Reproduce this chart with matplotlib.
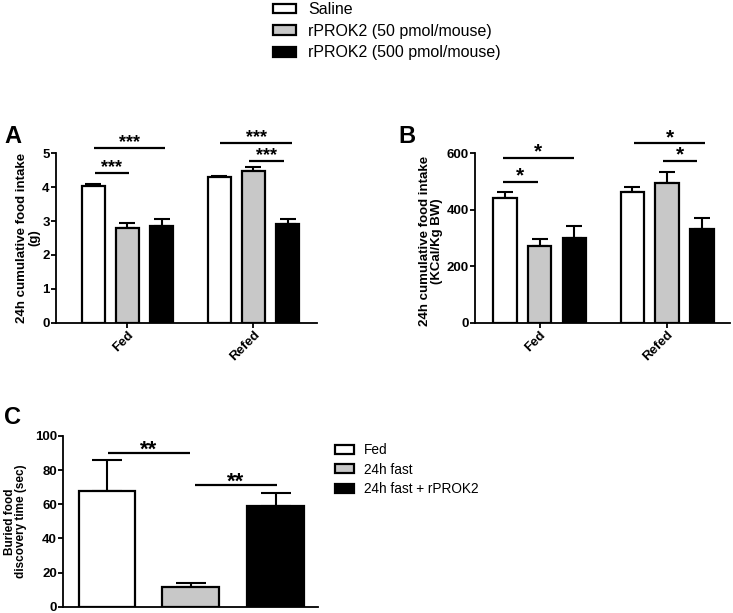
import numpy as np
import matplotlib
matplotlib.use("Agg")
import matplotlib.pyplot as plt
from matplotlib.patches import Patch

# ── Data ─────────────────────────────────────────────────────
groups_ab = ["Fed", "Refed"]
dose_labels = ["Saline", "rPROK2 (50 pmol/mouse)", "rPROK2 (500 pmol/mouse)"]

a_fed = [4.03, 2.80, 2.85]
a_fed_err = [0.06, 0.13, 0.20]
a_refed = [4.29, 4.49, 2.90]
a_refed_err = [0.04, 0.11, 0.16]

b_fed = [441, 273, 301]
b_fed_err = [23, 22, 42]
b_refed = [464, 494, 332]
b_refed_err = [18, 41, 38]

c_labels = ["Fed", "24h fast", "24h fast + rPROK2"]
c_vals = [68, 11.7, 59.2]
c_err = [18, 2.4, 7.2]

colors = ["white", "#c8c8c8", "black"]

# ── Style ────────────────────────────────────────────────────
plt.rcParams.update({
    "font.family": ["Liberation Sans", "DejaVu Sans"],
    "axes.linewidth": 1.3,
})

W, H = 733, 613
fig = plt.figure(figsize=(W / 100, H / 100), dpi=100)


def px_axes(l, r, top, bot):
    return fig.add_axes([l / W, 1 - bot / H, (r - l) / W, (bot - top) / H])


def style(ax, fs=9.5):
    for s in ["top", "right"]:
        ax.spines[s].set_visible(False)
    ax.tick_params(direction="out", length=3.5, width=1.3, pad=1)
    for t in ax.get_yticklabels():
        t.set_fontweight("bold")
        t.set_fontsize(fs)


def bars(ax, xs, vals, errs, width, capsize):
    ax.bar(xs, vals, width=width, color=colors, edgecolor="black",
           linewidth=1.6, zorder=3)
    ax.errorbar(xs, vals, yerr=[np.zeros(len(vals)), errs], fmt="none",
                ecolor="black", elinewidth=1.5, capsize=capsize,
                capthick=1.5, zorder=2)


def sig(ax, x0, x1, y, stars, size=13, dy=0.0):
    ax.plot([x0, x1], [y, y], color="black", lw=1.6, clip_on=False,
            solid_capstyle="butt")
    ax.text((x0 + x1) / 2, y + dy, stars, ha="center", va="bottom",
            fontsize=size, fontweight="bold", clip_on=False)


# ── Panel A ──────────────────────────────────────────────────
axA = px_axes(56, 317, 153.3, 322.7)
cA = [2.08, 5.75]
bars(axA, [cA[0] - 1, cA[0], cA[0] + 1], a_fed, a_fed_err, 0.67, 5.5)
bars(axA, [cA[1] - 1, cA[1], cA[1] + 1], a_refed, a_refed_err, 0.67, 5.5)
axA.set_xlim(0, 7.6)
axA.set_ylim(0, 5)
axA.set_yticks([0, 1, 2, 3, 4, 5])
axA.set_xticks(cA)
axA.set_xticklabels(groups_ab, rotation=45, ha="right", va="top",
                    rotation_mode="anchor", fontweight="bold", fontsize=9.5)
style(axA)
axA.set_ylabel("24h cumulative food intake\n(g)", fontweight="bold",
               fontsize=9.5, linespacing=1.0)
axA.yaxis.set_label_coords(-0.06, 0.5)
sig(axA, 1.1, 3.16, 5.16, "***", dy=-0.1)
sig(axA, 1.13, 2.12, 4.43, "***", dy=-0.1)
sig(axA, 4.78, 6.87, 5.31, "***", dy=-0.1)
sig(axA, 5.62, 6.64, 4.77, "***", dy=-0.1)

# ── Panel B ──────────────────────────────────────────────────
axB = px_axes(475, 730, 153.3, 322.7)
cB = [1.9, 5.65]
bars(axB, [cB[0] - 1.02, cB[0], cB[0] + 1.02], b_fed, b_fed_err, 0.69, 5.5)
bars(axB, [cB[1] - 1.02, cB[1], cB[1] + 1.02], b_refed, b_refed_err, 0.69, 5.5)
axB.set_xlim(0, 7.5)
axB.set_ylim(0, 600)
axB.set_yticks([0, 200, 400, 600])
axB.set_xticks(cB)
axB.set_xticklabels(groups_ab, rotation=45, ha="right", va="top",
                    rotation_mode="anchor", fontweight="bold", fontsize=9.5)
style(axB)
axB.set_ylabel("24h cumulative food intake\n(KCal/Kg BW)", fontweight="bold",
               fontsize=9.5, linespacing=1.0)
axB.yaxis.set_label_coords(-0.125, 0.48)
sig(axB, 0.82, 2.91, 584, "*", size=15, dy=-14)
sig(axB, 0.82, 1.85, 499, "*", size=15, dy=-14)
sig(axB, 4.68, 6.76, 636, "*", size=15, dy=-14)
sig(axB, 5.53, 6.53, 573, "*", size=15, dy=-14)

# ── Panel C ──────────────────────────────────────────────────
axC = px_axes(63, 318, 436, 606.7)
xc = [0.52, 1.51, 2.52]
axC.bar(xc, c_vals, width=0.67, color=colors, edgecolor="black",
        linewidth=1.6, zorder=3)
axC.errorbar(xc, c_vals, yerr=[np.zeros(3), c_err], fmt="none",
             ecolor="black", elinewidth=1.5, capsize=10.5, capthick=1.5,
             zorder=2)
axC.set_xlim(0, 3.02)
axC.set_ylim(0, 100)
axC.set_yticks([0, 20, 40, 60, 80, 100])
axC.set_xticks([])
style(axC, fs=9.5)
axC.set_ylabel("Buried food\ndiscovery time (sec)", fontweight="bold",
               fontsize=8.5, linespacing=0.95)
axC.yaxis.set_label_coords(-0.14, 0.5)
sig(axC, 0.53, 1.5, 90, "**", size=16, dy=-4.5)
sig(axC, 1.56, 2.53, 71.3, "**", size=16, dy=-4.5)

# ── Legends ──────────────────────────────────────────────────
top_handles = [Patch(facecolor=c, edgecolor="black", linewidth=1.6) for c in colors]
fig.legend(top_handles, dose_labels, loc="upper left",
           bbox_to_anchor=(273 / W, 1 - 2 / H), frameon=False, fontsize=11.5,
           handlelength=1.45, handleheight=0.55, handletextpad=0.75,
           labelspacing=0.42, borderpad=0, borderaxespad=0)

c_handles = [Patch(facecolor=c, edgecolor="black", linewidth=1.6) for c in colors]
fig.legend(c_handles, c_labels, loc="upper left",
           bbox_to_anchor=(335 / W, 1 - 443 / H), frameon=False,
           fontsize=9.8,
           handlelength=1.4, handleheight=0.65, handletextpad=0.7,
           labelspacing=0.42, borderpad=0, borderaxespad=0)

# ── Panel letters ────────────────────────────────────────────
fig.text(4 / W, 1 - 143 / H, "A", fontsize=17, fontweight="bold")
fig.text(398 / W, 1 - 143 / H, "B", fontsize=17, fontweight="bold")
fig.text(4 / W, 1 - 424 / H, "C", fontsize=17, fontweight="bold")

fig.savefig("out.png", dpi=100)
